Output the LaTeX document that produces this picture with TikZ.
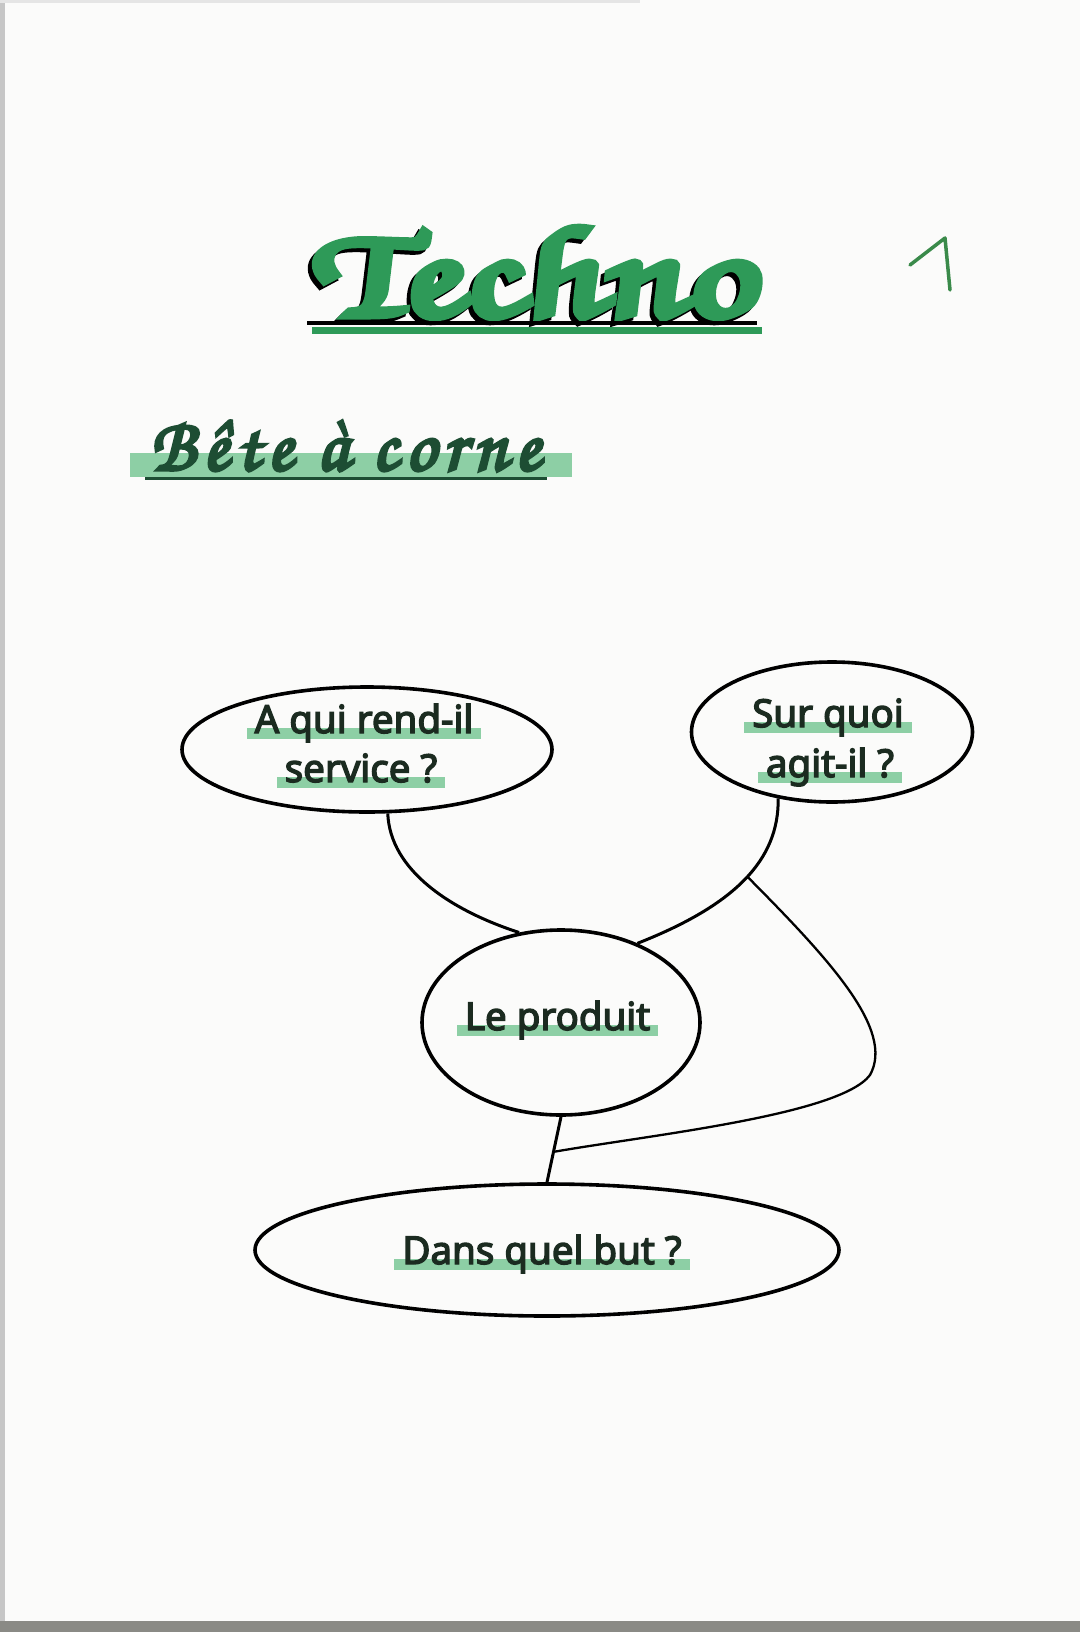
\documentclass[tikz,border=0pt]{standalone}
\usepackage[T1]{fontenc}
\usepackage{fontspec}
\newfontfamily\lblfont{Noto Sans}[FakeBold=3.6]
\usetikzlibrary{shapes.geometric,calc}
\definecolor{hlgreen}{HTML}{8DCFA5}
\definecolor{txtdark}{HTML}{1B2B20}
\definecolor{titlegreen}{HTML}{2E9A58}
\definecolor{darkgreen}{HTML}{1D4D33}
\definecolor{paper}{HTML}{FBFBFA}
\definecolor{edgegray}{HTML}{8A8A85}
\definecolor{penstroke}{HTML}{3A8A4A}
\newcommand\scriptfnt{\fontencoding{T1}\fontfamily{pzc}\fontseries{mb}\fontshape{it}\selectfont}
\newcommand\fatten[2]{\special{pdf:literal direct #1 w 2 Tr}#2\special{pdf:literal direct 0 Tr}}
\newcommand\hlbar[1]{\setbox0\hbox{#1}\rlap{\hskip-8pt\raisebox{-6pt}{\textcolor{hlgreen}{\rule{\dimexpr\wd0+16pt\relax}{11pt}}}}\box0}
\newcommand\techword{\resizebox{440pt}{93pt}{\scriptfnt\fatten{0.55}{Techno}}}
\newcommand\beteword{\resizebox{390pt}{!}{\fontsize{50}{50}\scriptfnt\fatten{2.2}{B\kern5pt\^e\kern5pt t\kern5pt e\kern16pt\`a\kern16pt c\kern5pt o\kern5pt r\kern5pt n\kern5pt e}}}
\begin{document}
\begin{tikzpicture}[x=1pt,y=-1pt,
  ell/.style={draw=black, line width=3.6pt, ellipse, inner sep=0pt},
  conn/.style={draw=black, line width=3pt},
  branch/.style={draw=black, line width=2.3pt},
  lbl/.style={inner sep=0pt, anchor=base, font=\lblfont\fontsize{38.5}{44}\selectfont, text=txtdark},
  ttl/.style={inner sep=0pt, anchor=base west}]
\fill[paper] (0,0) rectangle (1080,1632);
\useasboundingbox (0,0) rectangle (1080,1632);
\fill[gray!45] (0,0) rectangle (5,1632);
\fill[gray!20] (0,0) rectangle (640,3);
\fill[edgegray] (0,1621) rectangle (1080,1632);

% title
\coordinate (tsh) at (313,320);
\coordinate (tpos) at (317,316);
\node[ttl, text=black, xslant=-0.22, transform shape] (Ts) at (tsh) {\techword};
\node[ttl, text=titlegreen, xslant=-0.22, transform shape] (T) at (tpos) {\techword};
\draw[black, line width=4pt] (307,323) -- (757,323);
\draw[titlegreen, line width=7pt] (312,330) -- (762,330);
\draw[penstroke, line width=3.5pt, line cap=round, line join=round] (910,265) -- (945,238) -- (950,290);

% subtitle
\fill[hlgreen] (130,453) rectangle (572,477);
\node[ttl, text=darkgreen] (Bt) at (150,470) {\beteword};
\draw[darkgreen, line width=3pt] (145,478) -- (547,478);

% ellipses
\node[ell, minimum width=370pt, minimum height=125pt] (L) at (367,749.5) {};
\node[ell, minimum width=281pt, minimum height=140pt] (R) at (832,732) {};
\node[ell, minimum width=278pt, minimum height=185pt] (P) at (561,1022.5) {};
\node[ell, minimum width=584pt, minimum height=132pt] (B) at (547,1250) {};

% labels
\node[lbl] (L1) at (364,733) {\hlbar{A qui rend-il}};
\node[lbl] (L2) at (361,782) {\hlbar{service ?}};
\node[lbl] (R1) at (828,727) {\hlbar{Sur quoi}};
\node[lbl] (R2) at (830,777) {\hlbar{agit-il ?}};
\node[lbl] (P1) at (557.5,1030) {\hlbar{Le produit}};
\node[lbl] (B1) at (542,1264) {\hlbar{Dans quel but ?}};

% connectors
\draw[conn] (L.-72) .. controls (390,870) and (450,910) .. (P.115);
\draw[conn] (R.-129) .. controls (779,860) and (735,905) .. (P.46) coordinate[pos=0.48] (K);
\draw[conn] (P.south) -- (B.north);
\coordinate (J) at ($(P.south)!0.536!(B.north)$);
\draw[branch] (K) .. controls (830,960) and (895,1030) .. (870,1075) .. controls (840,1115) and (650,1135) .. (J);
\end{tikzpicture}
\end{document}
